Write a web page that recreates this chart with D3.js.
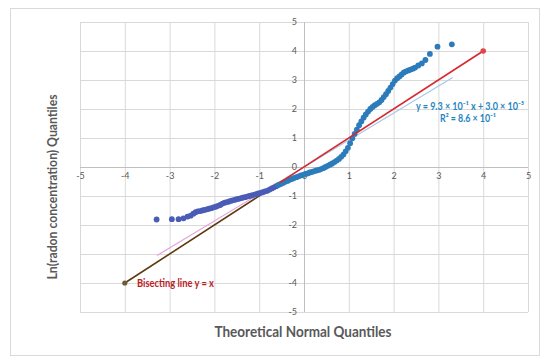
<!DOCTYPE html>
<html><head><meta charset="utf-8">
<script src="https://cdn.jsdelivr.net/npm/d3@7"></script>
<style>
html,body{margin:0;padding:0;background:#fff;}
svg{display:block;font-family:Lato,"Open Sans",sans-serif;}
</style></head>
<body><svg id="c" width="550" height="363"></svg>
<script>
// ---------- data ----------
const axisTicks = [-5,-4,-3,-2,-1,0,1,2,3,4,5];
const theoreticalQ = [-3.29,-2.95,-2.80,-2.69,-2.60,-2.53,-2.47,-2.42,-2.37,-2.32,-2.27,-2.22,-2.17,-2.12,-2.07,-2.02,-1.97,-1.92,-1.87,-1.82,-1.77,-1.72,-1.67,-1.62,-1.57,-1.52,-1.47,-1.42,-1.37,-1.32,-1.27,-1.22,-1.17,-1.12,-1.07,-1.02,-0.97,-0.92,-0.87,-0.82,-0.77,-0.72,-0.67,-0.62,-0.57,-0.52,-0.47,-0.42,-0.37,-0.32,-0.27,-0.22,-0.17,-0.12,-0.07,-0.02,0.03,0.08,0.13,0.18,0.23,0.28,0.33,0.38,0.43,0.48,0.53,0.58,0.63,0.68,0.73,0.78,0.83,0.88,0.93,0.98,1.03,1.08,1.13,1.18,1.23,1.28,1.33,1.38,1.43,1.48,1.53,1.58,1.63,1.68,1.73,1.78,1.83,1.88,1.93,1.98,2.03,2.08,2.13,2.18,2.23,2.28,2.33,2.38,2.43,2.48,2.55,2.63,2.71,2.81,2.98,3.30];
const sampleQ = [-1.81,-1.80,-1.80,-1.77,-1.71,-1.68,-1.61,-1.56,-1.53,-1.52,-1.50,-1.48,-1.46,-1.44,-1.42,-1.39,-1.37,-1.34,-1.31,-1.26,-1.23,-1.21,-1.19,-1.16,-1.14,-1.12,-1.10,-1.08,-1.06,-1.04,-1.02,-1.00,-0.98,-0.96,-0.94,-0.91,-0.89,-0.87,-0.84,-0.82,-0.78,-0.74,-0.70,-0.66,-0.62,-0.59,-0.55,-0.51,-0.48,-0.44,-0.41,-0.38,-0.35,-0.32,-0.29,-0.27,-0.24,-0.22,-0.19,-0.17,-0.14,-0.12,-0.10,-0.07,-0.04,0.00,0.04,0.08,0.12,0.17,0.22,0.28,0.35,0.43,0.54,0.66,0.82,0.99,1.14,1.29,1.44,1.57,1.70,1.81,1.91,2.00,2.07,2.13,2.18,2.23,2.31,2.41,2.51,2.62,2.74,2.86,2.98,3.06,3.12,3.19,3.26,3.30,3.33,3.36,3.39,3.43,3.50,3.57,3.69,3.90,4.15,4.23];
const bisectX = [-4, -0.55, 4];          // bisecting line y = x (two coloured parts)
const trendSlope = 0.93, trendIntercept = 0.00003;
const trendX = [-3.28, -0.6, 3.32];
const xTitle = "Theoretical Normal Quantiles";
const yTitle = "Ln(radon concentration) Quantiles";
const eqLine1 = "y = 9.3 × 10⁻¹ x + 3.0 × 10⁻⁵";
const eqLine2 = "R² = 8.6 × 10⁻¹";
const bisectLabel = "Bisecting line y = x";

// ---------- layout ----------
const svg = d3.select("#c");
const x = d3.scaleLinear().domain([-5,5]).range([80,528]);
const y = d3.scaleLinear().domain([-5,5]).range([312,22]);

svg.append("rect").attr("x",10.5).attr("y",8.5).attr("width",529).attr("height",347)
  .attr("fill","#fff").attr("stroke","#d9d9d9");

// grid
const g = svg.append("g");
g.selectAll("line.vx").data(axisTicks).join("line")
  .attr("x1",d=>x(d)+0.5).attr("x2",d=>x(d)+0.5).attr("y1",y(5)).attr("y2",y(-5))
  .attr("stroke","#d9d9d9").attr("stroke-width",1);
g.selectAll("line.hy").data(axisTicks).join("line")
  .attr("y1",d=>Math.round(y(d))+0.5).attr("y2",d=>Math.round(y(d))+0.5).attr("x1",x(-5)).attr("x2",x(5))
  .attr("stroke","#d9d9d9").attr("stroke-width",1);
// axis lines at zero
svg.append("line").attr("x1",x(-5)).attr("x2",x(5)).attr("y1",Math.round(y(0))+0.5).attr("y2",Math.round(y(0))+0.5).attr("stroke","#bfbfbf");
svg.append("line").attr("x1",x(0)+0.5).attr("x2",x(0)+0.5).attr("y1",y(5)).attr("y2",y(-5)).attr("stroke","#bfbfbf");

// axes labels
const ax = svg.append("g").attr("transform",`translate(0,${y(0)})`)
  .call(d3.axisBottom(x).tickValues(axisTicks).tickSize(0).tickPadding(6).tickFormat(d=>String(d)));
const ay = svg.append("g").attr("transform",`translate(${x(0)},0)`)
  .call(d3.axisLeft(y).tickValues(axisTicks).tickSize(0).tickPadding(7).tickFormat(d=>String(d)));
[ax,ay].forEach(a=>{a.select(".domain").remove();
  a.selectAll("text").attr("fill","#595959").attr("font-size",9).attr("font-family","Lato,'Open Sans',sans-serif");});

// trendline
const trendColors = ["#e3a2dc","#a7c9e6"];
for(let i=0;i<2;i++){
  svg.append("line").attr("x1",x(trendX[i])).attr("y1",y(trendSlope*trendX[i]+trendIntercept))
    .attr("x2",x(trendX[i+1])).attr("y2",y(trendSlope*trendX[i+1]+trendIntercept))
    .attr("stroke",trendColors[i]).attr("stroke-width",1.2);
}
// bisect lower (brown) part under points
svg.append("line").attr("x1",x(bisectX[0])).attr("y1",y(bisectX[0]))
  .attr("x2",x(bisectX[1])).attr("y2",y(bisectX[1])).attr("stroke","#5e3a10").attr("stroke-width",1.6);
svg.append("circle").attr("cx",x(bisectX[0])).attr("cy",y(bisectX[0])).attr("r",2.6).attr("fill","#6d5a3a");

// points
const pts = theoreticalQ.map((t,i)=>({t, s:sampleQ[i]}));
svg.append("g").selectAll("circle").data(pts).join("circle")
  .attr("cx",d=>x(d.t)).attr("cy",d=>y(d.s)).attr("r",2.9)
  .attr("fill",d=>d.t < -0.6 ? "#4a5cb6" : "#2c7bba");

// bisect upper (red) part
svg.append("line").attr("x1",x(bisectX[1])).attr("y1",y(bisectX[1]))
  .attr("x2",x(bisectX[2])).attr("y2",y(bisectX[2])).attr("stroke","#d9272e").attr("stroke-width",1.6);
svg.append("circle").attr("cx",x(bisectX[2])).attr("cy",y(bisectX[2])).attr("r",2.8).attr("fill","#e0474c");

function squeeze(sel, target){
  const l = sel.node().getComputedTextLength();
  if (l > target) sel.attr("textLength", target).attr("lengthAdjust","spacingAndGlyphs");
}

// equation text
const eq1 = svg.append("text").attr("x",470).attr("y",109.5).attr("text-anchor","middle")
  .attr("fill","#1f86c3").attr("font-weight","bold").attr("font-size",10.5).text(eqLine1);
squeeze(eq1,108);
const eq2 = svg.append("text").attr("x",468).attr("y",121.5).attr("text-anchor","middle")
  .attr("fill","#1f86c3").attr("font-weight","bold").attr("font-size",10.5).text(eqLine2);
squeeze(eq2,56);

const bl = svg.append("text").attr("x",137).attr("y",287).attr("fill","#b8201f").attr("font-weight","bold")
  .attr("font-size",11).text(bisectLabel);
squeeze(bl,77);

// axis titles
const xt = svg.append("text").attr("x",303).attr("y",337).attr("text-anchor","middle")
  .attr("fill","#595959").attr("font-weight","bold").attr("font-size",15).text(xTitle);
squeeze(xt,177);
const yt = svg.append("text").attr("transform","translate(57,187) rotate(-90)").attr("text-anchor","middle")
  .attr("fill","#595959").attr("font-weight","bold").attr("font-size",14).text(yTitle);
squeeze(yt,185);
</script></body></html>
